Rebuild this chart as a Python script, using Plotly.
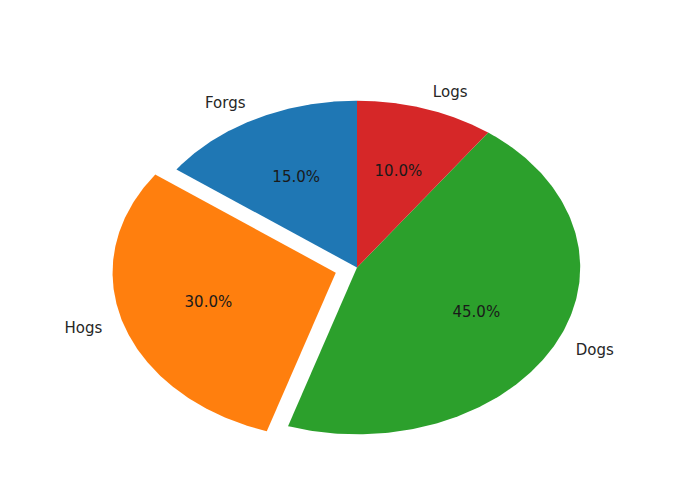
import numpy as np
import plotly.graph_objects as go

labels = ["Forgs", "Hogs", "Dogs", "Logs"]
sizes = [15, 30, 45, 10]
explode = [0, 0.1, 0, 0]
colors = ["#1f77b4", "#ff7f0e", "#2ca02c", "#d62728"]
start_angle = 90

fig = go.Figure()
total = float(sum(sizes))
theta1 = start_angle
lab_x, lab_y, lab_pos = [], [], []
pct_x, pct_y, pct_t = [], [], []
for lab, s, ex, col in zip(labels, sizes, explode, colors):
    theta2 = theta1 + 360.0 * s / total
    mid = np.deg2rad((theta1 + theta2) / 2)
    cx, cy = ex * np.cos(mid), ex * np.sin(mid)
    t = np.deg2rad(np.linspace(theta1, theta2, 200))
    xs = np.concatenate([[cx], cx + np.cos(t), [cx]])
    ys = np.concatenate([[cy], cy + np.sin(t), [cy]])
    fig.add_trace(go.Scatter(x=xs, y=ys, mode="lines", fill="toself",
                             fillcolor=col, line=dict(width=0, color=col),
                             hoverinfo="skip", showlegend=False))
    lx, ly = cx + 1.1 * np.cos(mid), cy + 1.1 * np.sin(mid)
    lab_x.append(lx); lab_y.append(ly)
    lab_pos.append("middle right" if lx > 0 else "middle left")
    pct_x.append(cx + 0.6 * np.cos(mid)); pct_y.append(cy + 0.6 * np.sin(mid))
    pct_t.append(f"{100.0 * s / total:.1f}%")
    theta1 = theta2

for x, y, txt, pos in zip(lab_x, lab_y, labels, lab_pos):
    fig.add_trace(go.Scatter(x=[x], y=[y], mode="text", text=[txt],
                             textposition=pos, showlegend=False, hoverinfo="skip",
                             cliponaxis=False,
                             textfont=dict(family="DejaVu Sans", size=15, color="#262626")))
fig.add_trace(go.Scatter(x=pct_x, y=pct_y, mode="text", text=pct_t,
                         textposition="middle center", showlegend=False, hoverinfo="skip",
                         cliponaxis=False,
                         textfont=dict(family="DejaVu Sans", size=15, color="#1a1a1a")))

fig.update_layout(
    width=700, height=489, autosize=False,
    margin=dict(l=70, r=72, t=51, b=21, pad=0),
    paper_bgcolor="white", plot_bgcolor="white",
    xaxis=dict(range=[-1.25, 1.25], visible=False, showgrid=False, zeroline=False),
    yaxis=dict(range=[-1.25, 1.25], visible=False, showgrid=False, zeroline=False),
)
fig.write_html("out.html")
